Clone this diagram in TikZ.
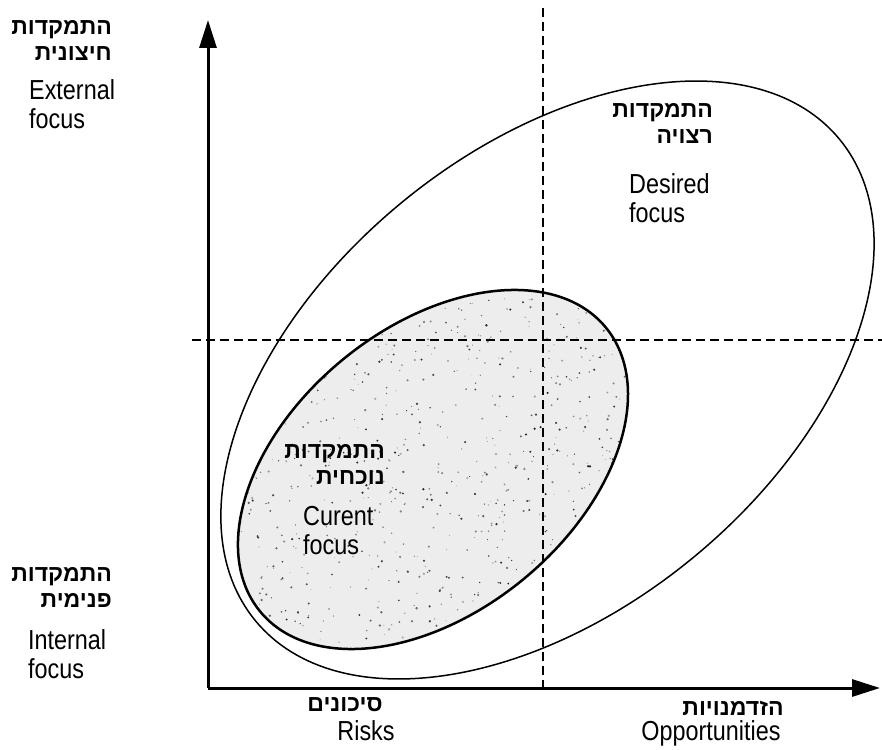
\documentclass[tikz,border=0pt]{standalone}
\usepackage{fontspec}
\setmainfont{Liberation Sans}
\newfontfamily\engfont[FakeStretch=0.85]{Liberation Sans}
\newfontfamily\hebfont[Script=Hebrew]{Liberation Sans}
\TeXXeTstate=1
\usetikzlibrary{arrows.meta}

\begin{document}
\begin{tikzpicture}[x=1pt, y=-1pt,
  axis/.style={line width=3pt, -{Triangle[length=28pt,width=17pt]}},
  guide/.style={line width=2pt, dash pattern=on 9pt off 5pt},
  heb/.style={font=\hebfont\bfseries\fontsize{23}{26}\selectfont, align=right, inner sep=0pt},
  eng/.style={font=\engfont\fontsize{27.5}{29}\selectfont, align=left, inner sep=0pt}]
  \useasboundingbox (0,0) rectangle (882,749);
  % corners of the chart
  \coordinate (O) at (208,688);
  \coordinate (ytip) at (208,20);
  \coordinate (xtip) at (880,688);
  \coordinate (vtop) at (543,8);
  \coordinate (vbot) at (543,688);
  \coordinate (hleft) at (192,340);
  \coordinate (hright) at (882,340);
  \coordinate (cur) at (433,469.5);
  \coordinate (des) at (547.5,380);
  % current focus, shaded
  \begin{scope}
    \clip[rotate around={39.4:(cur)}] (cur) ellipse [x radius=223.7, y radius=142.2];
    \fill[black!7] (230,280) rectangle (640,660);
    \pgfmathsetseed{17}
    \foreach \i in {1,...,900} {
      \pgfmathsetmacro\px{433+200*rand}
      \pgfmathsetmacro\py{469.5+185*rand}
      \pgfmathsetmacro\pr{0.4+0.9*rnd}
      \pgfmathsetmacro\pk{30+60*rnd}
      \fill[black!\pk] (\px,\py) circle (\pr);
    }
  \end{scope}
  \draw[line width=1.5pt, rotate around={39.5:(des)}] (des) ellipse [x radius=378.5, y radius=229.7];
  \draw[line width=2.5pt, rotate around={39.4:(cur)}] (cur) ellipse [x radius=223.7, y radius=142.2];
  \draw[guide] (vtop) -- (vbot);
  \draw[guide] (hleft) -- (hright);
  \draw[axis] (O) -- (ytip);
  \draw[axis] (O) -- (xtip);
  % labels
  \node[heb, anchor=east] (hext) at (112,40) {\beginR התמקדות\endR\\\beginR חיצונית\endR};
  \node[eng, anchor=west] (ext) at (29,104) {External\\focus};
  \node[heb, anchor=east] (hint) at (112,587.5) {\beginR התמקדות\endR\\\beginR פנימית\endR};
  \node[eng, anchor=west] (int) at (28,654) {Internal\\focus};
  \node[heb] (hrisk) at (345,705) {\beginR סיכונים\endR};
  \node[eng] (risk) at (366,731) {Risks};
  \node[heb] (hopp) at (733,708) {\beginR הזדמנויות\endR};
  \node[eng] (opp) at (711,733) {Opportunities};
  \node[heb, anchor=east] (hdes) at (713,123.5) {\beginR התמקדות\endR\\\beginR רצויה\endR};
  \node[eng, anchor=west] (desd) at (629,198) {Desired\\focus};
  \node[heb, anchor=east] (hcur) at (385,464.5) {\beginR התמקדות\endR\\\beginR נוכחית\endR};
  \node[eng, anchor=west] (curt) at (303,531) {Curent\\focus};
\end{tikzpicture}
\end{document}
